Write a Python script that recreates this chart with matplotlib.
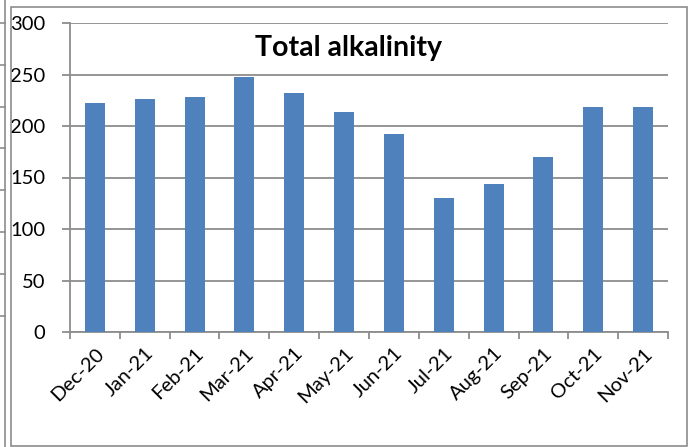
import numpy as np
import matplotlib
matplotlib.use('Agg')
import matplotlib.pyplot as plt
from matplotlib.patches import Rectangle
from matplotlib.lines import Line2D

W, H = 690, 447
BLUE = '#4F81BD'; GRID = '#8C8C8C'; INK = '#000000'

months = ['Dec-20', 'Jan-21', 'Feb-21', 'Mar-21', 'Apr-21', 'May-21',
          'Jun-21', 'Jul-21', 'Aug-21', 'Sep-21', 'Oct-21', 'Nov-21']
alkalinity = [222, 226, 228, 248, 232, 214, 192, 130, 144, 170, 218, 218]
yticks = [0, 50, 100, 150, 200, 250, 300]

plt.rcParams.update({'font.family': ['Lato', 'DejaVu Sans'], 'font.size': 14})

fig = plt.figure(figsize=(W / 100, H / 100), dpi=100)
fig.patch.set_facecolor('white')

def fx(px): return px / W
def fy(py): return 1 - py / H

# chart frame
fig.add_artist(Rectangle((fx(10.5), fy(445.5)), fx(687) - fx(10.5), fy(6.5) - fy(445.5),
                         transform=fig.transFigure, fill=False, edgecolor=GRID, linewidth=1.2))
# edge of the neighbouring chart on the left
fig.add_artist(Line2D([fx(5), fx(5)], [0, 1], transform=fig.transFigure, color=GRID, linewidth=1.2))
for k in range(8):
    y = fy(23 + 41.8 * k)
    fig.add_artist(Line2D([0, fx(5)], [y, y], transform=fig.transFigure, color=GRID, linewidth=1.2))

ax = fig.add_axes([fx(70), fy(332), fx(668) - fx(70), fy(23) - fy(332)])
x = np.arange(len(months))
ax.bar(x, alkalinity, width=0.4, color=BLUE, zorder=3)

ax.set_xlim(-0.5, len(months) - 0.5)
ax.set_ylim(0, 300)
ax.set_yticks(yticks)
ax.yaxis.grid(True, color=GRID, linewidth=1.3, zorder=0)
ax.set_axisbelow(True)

ax.set_xticks(np.arange(len(months) + 1) - 0.5)
ax.set_xticklabels([])
ax.set_xticks(x, minor=True)
ax.set_xticklabels(months, minor=True, rotation=45, ha='right', va='top',
                   rotation_mode='anchor', fontsize=14.5)
ax.tick_params(axis='x', which='minor', length=0, pad=9)
ax.tick_params(axis='x', which='major', length=5, width=1.3, color=GRID)
ax.tick_params(axis='y', length=6, width=1.3, color=GRID, pad=12, labelsize=14.5)

for s in ['top', 'right']:
    ax.spines[s].set_visible(False)
for s in ['left', 'bottom']:
    ax.spines[s].set_color(GRID)
    ax.spines[s].set_linewidth(1.3)

# title centred on the chart frame
fig.text(fx(348.5), fy(48), 'Total alkalinity', ha='center', va='center',
         fontsize=20.5, fontweight='bold', zorder=5)

fig.savefig('out.png', dpi=100)
